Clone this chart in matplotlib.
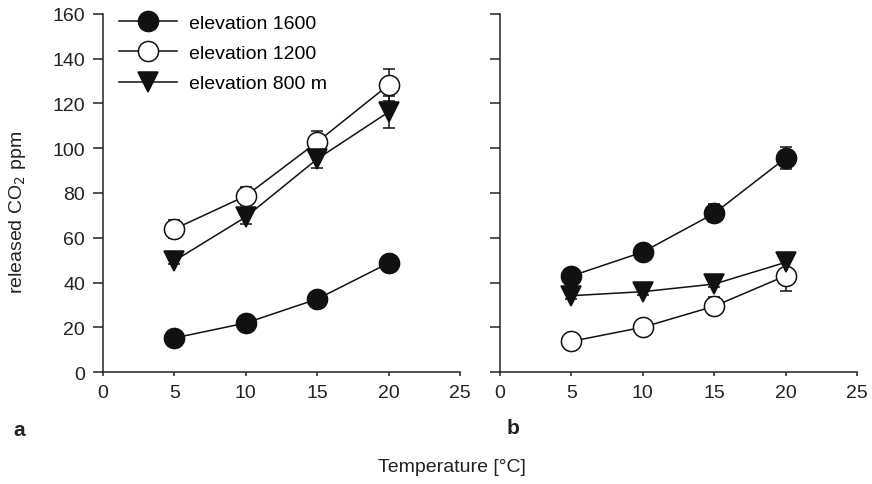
import matplotlib
matplotlib.use("Agg")
import matplotlib.pyplot as plt
from matplotlib.lines import Line2D

plt.rcParams['font.family'] = ['Liberation Sans', 'DejaVu Sans']
plt.rcParams['font.size'] = 14

temperature = [5, 10, 15, 20]

# panel a
a_1600 = [15.2, 21.9, 32.6, 48.7]
a_1600_err = [1.5, 1.5, 1.5, 1.5]
a_1200 = [63.9, 78.7, 102.8, 128.3]
a_1200_err = [4, 4, 5, 7]
a_800 = [49.7, 69.3, 95.2, 116.2]
a_800_err = [1.5, 3, 4, 7]

# panel b
b_1600 = [42.9, 53.6, 70.9, 95.6]
b_1600_err = [2, 2, 4, 5]
b_1200 = [13.7, 20.0, 29.4, 43.0]
b_1200_err = [1.5, 2, 4, 7]
b_800 = [34.1, 35.9, 39.3, 49.0]
b_800_err = [1.5, 1.5, 1.5, 4]

labels = ["elevation 1600", "elevation 1200", "elevation 800 m"]
x_ticks = [0, 5, 10, 15, 20, 25]
y_ticks = [0, 20, 40, 60, 80, 100, 120, 140, 160]

W, H = 872, 485
fig = plt.figure(figsize=(W / 100, H / 100), dpi=100)

def box(x0, x1, y0, y1):
    return [x0 / W, 1 - y1 / H, (x1 - x0) / W, (y1 - y0) / H]

ax_a = fig.add_axes(box(103, 460, 15, 373))
ax_b = fig.add_axes(box(500, 857, 15, 373))

styles = [
    dict(marker='o', mfc='#111111', mec='#111111'),
    dict(marker='o', mfc='white', mec='#111111'),
    dict(marker='v', mfc='#111111', mec='#111111'),
]

def draw(ax, series):
    for (vals, errs), st in zip(series, styles):
        ax.errorbar(temperature, vals, yerr=errs, color='#111111', lw=1.1,
                    elinewidth=1.1, capsize=4, capthick=1.1,
                    ms=14.5, mew=1.1, zorder=2, **st)
    ax.set_xlim(0, 25)
    ax.set_ylim(0, 160)
    ax.set_xticks(x_ticks)
    ax.set_yticks(y_ticks)
    for s in ['top', 'right']:
        ax.spines[s].set_visible(False)
    for s in ['left', 'bottom']:
        ax.spines[s].set_linewidth(1.1)
        ax.spines[s].set_color('#222222')
    ax.tick_params(axis='y', direction='out', length=7, width=1.1, pad=6,
                   colors='#222222', labelcolor='#222222', labelsize=14)
    ax.tick_params(axis='x', direction='out', length=3, width=1.1, pad=6,
                   colors='#222222', labelcolor='#222222', labelsize=14)

draw(ax_a, [(a_1600, a_1600_err), (a_1200, a_1200_err), (a_800, a_800_err)])
draw(ax_b, [(b_1600, b_1600_err), (b_1200, b_1200_err), (b_800, b_800_err)])
ax_b.set_yticklabels([])

handles = [Line2D([], [], color='#111111', lw=1.1, ms=14.5, mew=1.1, **st)
           for st in styles]
ax_a.legend(handles, labels, loc='upper left', bbox_to_anchor=(0.045, 1.0),
            frameon=False, handlelength=3.0, handletextpad=0.6,
            labelspacing=0.66, borderpad=0, borderaxespad=0, fontsize=14,
            numpoints=1)

fig.text(17 / W, 1 - 212 / H, "released CO$_2$ ppm", rotation=90,
         ha='center', va='center', fontsize=14, color='#222222')
fig.text(452 / W, 1 - 468 / H, "Temperature [°C]", ha='center', va='center',
         fontsize=14, color='#222222')
fig.text(19 / W, 1 - 431 / H, "a", ha='center', va='center', fontsize=15,
         fontweight='bold', color='#222222')
fig.text(513 / W, 1 - 429 / H, "b", ha='center', va='center', fontsize=15,
         fontweight='bold', color='#222222')

fig.savefig("out.png", dpi=100)
